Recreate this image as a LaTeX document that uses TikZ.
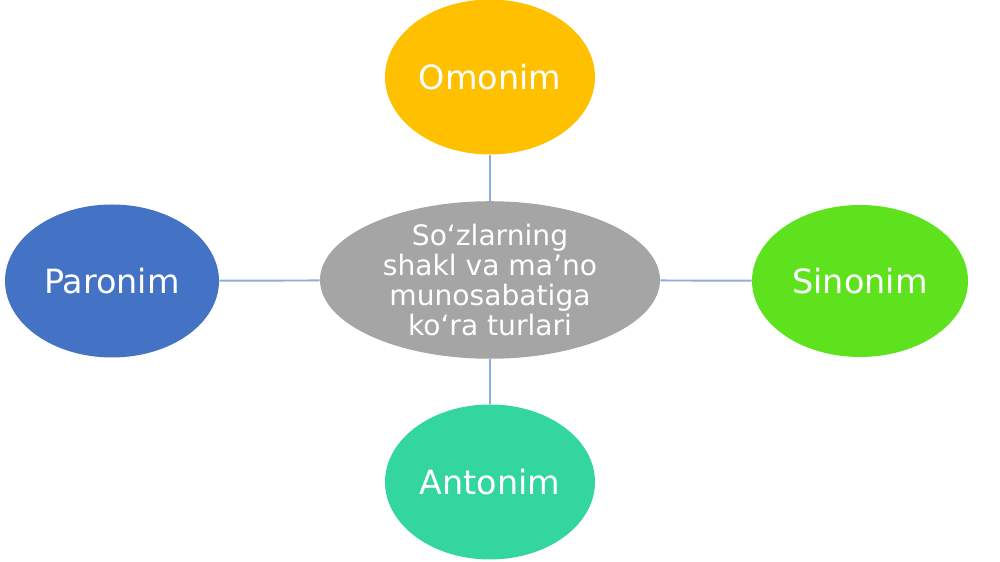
\documentclass[tikz,border=0pt]{standalone}
\usepackage{fontspec}
\setmainfont{DejaVu Sans}
\usetikzlibrary{shapes.geometric}
\definecolor{omonimfarve}{HTML}{FFC000}
\definecolor{paronimfarve}{HTML}{4472C4}
\definecolor{sinonimfarve}{HTML}{5FE21E}
\definecolor{antonimfarve}{HTML}{33D69F}
\definecolor{midtfarve}{HTML}{A5A5A5}
\definecolor{stregfarve}{HTML}{8FAADC}
\tikzset{
  boble/.style={ellipse,minimum width=4.2cm,minimum height=3.1cm,inner sep=0pt,
    text=white,font=\fontsize{19}{21}\selectfont},
  midte/.style={ellipse,fill=midtfarve,minimum width=6.8cm,minimum height=3cm,inner sep=0pt,
    text=white,align=center,font=\fontsize{16}{17}\selectfont},
  forbind/.style={stregfarve,line width=1.1pt}
}
\begin{document}
\begin{tikzpicture}
  \useasboundingbox (0,0) rectangle (20,11.24); %laerred
  \node[midte] (midt) at (9.8,5.64) {So`zlarning\\shakl va ma'no\\munosabatiga\\ko`ra turlari}; %midten
  \node[boble,fill=omonimfarve] (omonim) at (9.8,9.7) {Omonim}; %top
  \node[boble,fill=paronimfarve,minimum width=4.28cm,minimum height=3.06cm] (paronim) at (2.24,5.62) {Paronim}; %venstre
  \node[boble,fill=sinonimfarve,minimum width=4.32cm,minimum height=3.04cm] (sinonim) at (17.2,5.62) {Sinonim}; %hoejre
  \node[boble,fill=antonimfarve] (antonim) at (9.8,1.6) {Antonim}; %bund
  \draw[forbind] (omonim)--(midt);
  \draw[forbind] (paronim)--(midt);
  \draw[forbind] (midt)--(sinonim);
  \draw[forbind] (midt)--(antonim);
\end{tikzpicture}
\end{document}
